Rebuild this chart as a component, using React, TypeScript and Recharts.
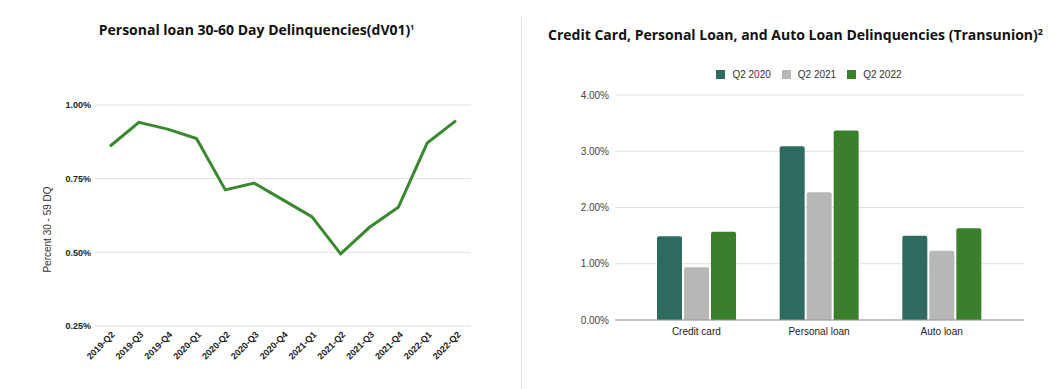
import React from 'react';
import { LineChart, Line, XAxis, YAxis, CartesianGrid, BarChart, Bar, Legend, Label } from 'recharts';

const quarters = ['2019-Q2', '2019-Q3', '2019-Q4', '2020-Q1', '2020-Q2', '2020-Q3', '2020-Q4', '2021-Q1', '2021-Q2', '2021-Q3', '2021-Q4', '2022-Q1', '2022-Q2'];
const dqRates = [0.86, 0.941, 0.918, 0.886, 0.712, 0.735, 0.678, 0.621, 0.495, 0.585, 0.653, 0.871, 0.947];
const lineTicks = [0.25, 0.5, 0.75, 1.0];

const loanTypes = ['Credit card', 'Personal loan', 'Auto loan'];
const q2_2020 = [1.49, 3.09, 1.5];
const q2_2021 = [0.94, 2.27, 1.23];
const q2_2022 = [1.57, 3.37, 1.63];
const barTicks = [0, 1, 2, 3, 4];
const seriesNames = ['Q2 2020', 'Q2 2021', 'Q2 2022'];
const seriesColors = ['#2d6b5f', '#b7b7b7', '#3a7f2b'];

const lineData = quarters.map((q, i) => ({ q, v: dqRates[i] }));
const barData = loanTypes.map((name, i) => ({ name, a: q2_2020[i], b: q2_2021[i], c: q2_2022[i] }));

const FONT = '"Liberation Sans", Arial, sans-serif';
const TITLE_FONT = '"Open Sans", "Noto Sans", sans-serif';

const RotatedTick = (props: any) => {
  const { x, y, payload } = props;
  const ax = x + 3;
  const ay = y;
  return (
    <text x={ax} y={ay} textAnchor="end" transform={`rotate(-45 ${ax} ${ay})`} fontSize={9} fontWeight={700} fill="#222" fontFamily={FONT} dy="0.35em">
      {payload.value}
    </text>
  );
};

const renderLegend = () => (
  <div style={{ display: 'flex', justifyContent: 'center', alignItems: 'center', height: 14, paddingLeft: 34, fontFamily: FONT, fontSize: 10, color: '#333' }}>
    {seriesNames.map((n, i) => (
      <div key={n} style={{ display: 'flex', alignItems: 'center', marginRight: i < seriesNames.length - 1 ? 11 : 0 }}>
        <div style={{ width: 9, height: 9, background: seriesColors[i], marginRight: 7 }} />
        <span>{n}</span>
      </div>
    ))}
  </div>
);

export default function App() {
  return (
    <div style={{ position: 'absolute', left: 0, top: 0, width: 1062, height: 389, background: '#fff', overflow: 'hidden' }}>
      <div style={{ position: 'absolute', left: 0, top: 23, width: 513, textAlign: 'center', fontFamily: TITLE_FONT, fontWeight: 700, fontSize: 14, lineHeight: '14px', color: '#111' }}>
        Personal loan 30-60 Day Delinquencies(dV01)<span style={{ fontSize: 7, verticalAlign: 'top', position: 'relative', top: -2 }}>1</span>
      </div>
      <div style={{ position: 'absolute', left: 530, top: 28, width: 531, textAlign: 'center', fontFamily: TITLE_FONT, fontWeight: 700, fontSize: 14, lineHeight: '14px', color: '#111' }}>
        Credit Card, Personal Loan, and Auto Loan Delinquencies (Transunion)<span style={{ fontSize: 9, verticalAlign: 'top', position: 'relative', top: -3 }}>2</span>
      </div>
      <div style={{ position: 'absolute', left: 521, top: 17, width: 1, height: 372, background: '#e6e6e6' }} />

      <div style={{ position: 'absolute', left: 0, top: 0 }}>
        <LineChart width={522} height={389} data={lineData} margin={{ top: 105, right: 51, bottom: 0, left: 0 }}>
          <CartesianGrid vertical={false} stroke="#e0e0e0" />
          <XAxis dataKey="q" interval={0} tickLine={false} axisLine={false} height={63} tickSize={0} tickMargin={7} padding={{ left: 15, right: 15 }} tick={<RotatedTick />} />
          <YAxis width={95} domain={[0.25, 1]} ticks={lineTicks} axisLine={false} tickLine={false} tickSize={4} tickMargin={0}
            tick={{ fontSize: 9, fontWeight: 700, fill: '#222', fontFamily: FONT }}
            tickFormatter={(v: number) => v.toFixed(2) + '%'}>
            <Label content={(p: any) => {
              const vb = p.viewBox || { x: 0, y: 105, width: 95, height: 221 };
              const cx = vb.x + 47;
              const cy = vb.y + vb.height / 2 + 14;
              return (
                <text x={cx} y={cy} transform={`rotate(-90 ${cx} ${cy})`} textAnchor="middle" dominantBaseline="central" fontSize={10} fill="#333" fontFamily={FONT}>
                  Percent 30 - 59 DQ
                </text>
              );
            }} />
          </YAxis>
          <Line type="linear" dataKey="v" stroke="#38892d" strokeWidth={3} dot={false} isAnimationActive={false} />
        </LineChart>
      </div>

      <div style={{ position: 'absolute', left: 522, top: 0 }}>
        <BarChart width={540} height={389} data={barData} margin={{ top: 81, right: 38, bottom: 0, left: 0 }} barSize={25} barGap={2}>
          <CartesianGrid vertical={false} stroke="#e0e0e0" />
          <Legend verticalAlign="top" content={renderLegend} wrapperStyle={{ top: 67, left: 0, width: 540 }} />
          <XAxis dataKey="name" tickLine={false} axisLine={{ stroke: '#999' }} height={69} padding={{ left: 20, right: 21 }}
            tick={{ fontSize: 10, fill: '#222', fontFamily: FONT }} />
          <YAxis width={93} domain={[0, 4]} ticks={barTicks} axisLine={false} tickLine={false} tickSize={6} tickMargin={0}
            tick={{ fontSize: 10, fill: '#444', fontFamily: FONT }}
            tickFormatter={(v: number) => v.toFixed(2) + '%'} />
          <Bar dataKey="a" name={seriesNames[0]} fill={seriesColors[0]} radius={[2, 2, 0, 0]} isAnimationActive={false} />
          <Bar dataKey="b" name={seriesNames[1]} fill={seriesColors[1]} radius={[2, 2, 0, 0]} isAnimationActive={false} />
          <Bar dataKey="c" name={seriesNames[2]} fill={seriesColors[2]} radius={[2, 2, 0, 0]} isAnimationActive={false} />
        </BarChart>
      </div>
    </div>
  );
}
